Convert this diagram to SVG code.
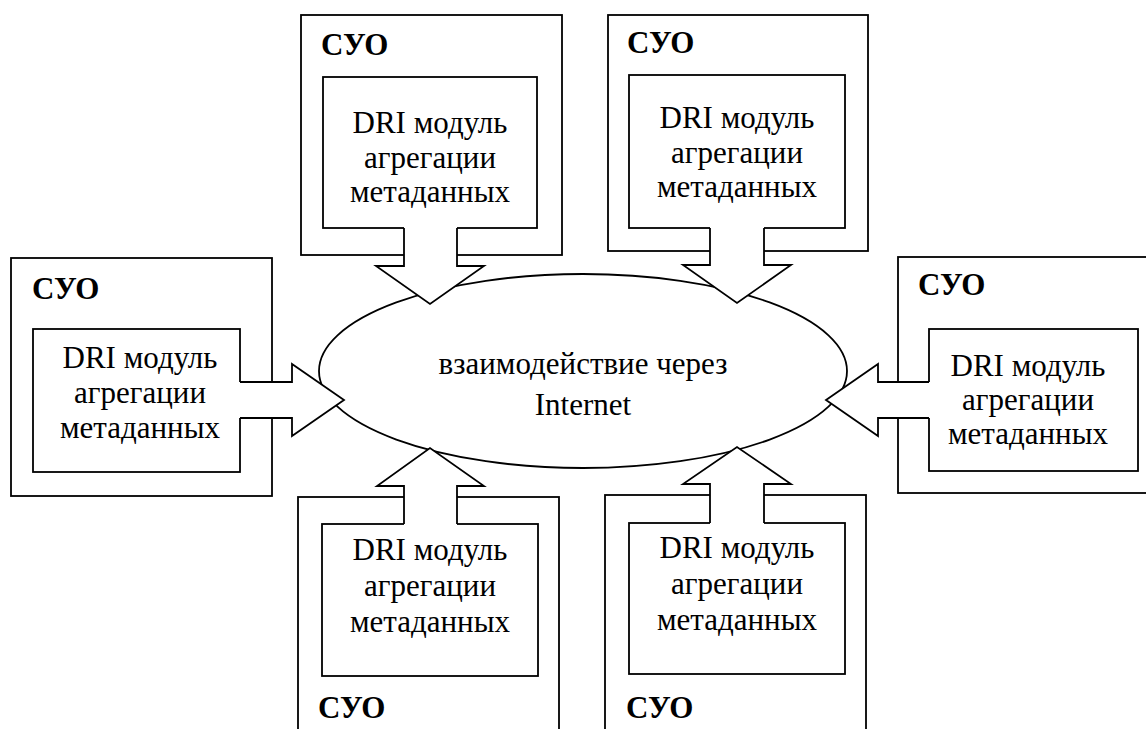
<svg xmlns="http://www.w3.org/2000/svg" width="1146" height="729" viewBox="0 0 1146 729">
<style>
text{font-family:"Liberation Serif","Times New Roman",serif !important;font-size:31px;fill:#000}
.t{text-anchor:middle}
.h{font-weight:bold}
.box{fill:#fff;stroke:#000;stroke-width:1.8}
.af{fill:#fff;stroke:none}
.al{fill:none;stroke:#000;stroke-width:1.8}
</style>
<rect width="1146" height="729" fill="#fff"/>
<g id="internet">
<ellipse class="box" cx="583" cy="371" rx="264" ry="97"/>
<text class="t" x="583" y="374" font-family="Liberation Serif">взаимодействие через</text>
<text class="t" x="583" y="415" font-family="Liberation Serif">Internet</text>
</g>
<g id="node-top-left">
<rect class="box" x="301" y="15" width="261" height="240"/>
<rect class="box" x="323" y="77" width="214" height="151"/>
<text class="h" x="321" y="55" font-family="Liberation Serif">СУО</text>
<text class="t" x="430" y="133" font-family="Liberation Serif">DRI модуль</text>
<text class="t" x="430" y="168" font-family="Liberation Serif">агрегации</text>
<text class="t" x="430" y="202" font-family="Liberation Serif">метаданных</text>
</g>
<g id="node-top-right">
<rect class="box" x="608" y="15" width="260" height="236"/>
<rect class="box" x="629" y="75" width="216" height="153"/>
<text class="h" x="627" y="53" font-family="Liberation Serif">СУО</text>
<text class="t" x="737" y="128" font-family="Liberation Serif">DRI модуль</text>
<text class="t" x="737" y="163" font-family="Liberation Serif">агрегации</text>
<text class="t" x="737" y="197" font-family="Liberation Serif">метаданных</text>
</g>
<g id="node-left">
<rect class="box" x="11" y="258" width="261" height="238"/>
<rect class="box" x="33" y="329" width="207" height="143"/>
<text class="h" x="32" y="299" font-family="Liberation Serif">СУО</text>
<text class="t" x="140" y="368" font-family="Liberation Serif">DRI модуль</text>
<text class="t" x="140" y="403" font-family="Liberation Serif">агрегации</text>
<text class="t" x="140" y="438" font-family="Liberation Serif">метаданных</text>
</g>
<g id="node-right">
<rect class="box" x="898" y="257" width="260" height="236"/>
<rect class="box" x="929" y="329" width="209" height="142"/>
<text class="h" x="918" y="295" font-family="Liberation Serif">СУО</text>
<text class="t" x="1028" y="376" font-family="Liberation Serif">DRI модуль</text>
<text class="t" x="1028" y="410" font-family="Liberation Serif">агрегации</text>
<text class="t" x="1028" y="444" font-family="Liberation Serif">метаданных</text>
</g>
<g id="node-bottom-left">
<rect class="box" x="298" y="497" width="261" height="250"/>
<rect class="box" x="322" y="524" width="216" height="152"/>
<text class="t" x="430" y="560" font-family="Liberation Serif">DRI модуль</text>
<text class="t" x="430" y="596" font-family="Liberation Serif">агрегации</text>
<text class="t" x="430" y="632" font-family="Liberation Serif">метаданных</text>
<text class="h" x="318" y="718" font-family="Liberation Serif">СУО</text>
</g>
<g id="node-bottom-right">
<rect class="box" x="605" y="495" width="261" height="252"/>
<rect class="box" x="629" y="523" width="216" height="151"/>
<text class="t" x="737" y="558" font-family="Liberation Serif">DRI модуль</text>
<text class="t" x="737" y="594" font-family="Liberation Serif">агрегации</text>
<text class="t" x="737" y="630" font-family="Liberation Serif">метаданных</text>
<text class="h" x="626" y="718" font-family="Liberation Serif">СУО</text>
</g>
<g id="connectors">
<polygon class="af" points="404,226 457,226 457,266 484,266 430,304 376,266 404,266"/>
<polygon class="af" points="710,226 764,226 764,265 791,265 737,303 683,265 710,265"/>
<polygon class="af" points="238,382 292,382 292,364 344,400 292,436 292,418 238,418"/>
<polygon class="af" points="931,382 878,382 878,364 826,400 878,436 878,418 931,418"/>
<polygon class="af" points="404,526 457,526 457,486 484,486 430,448 377,486 404,486"/>
<polygon class="af" points="710,525 764,525 764,484 791,484 737,447 683,484 710,484"/>
<path class="al" d="M404,228 V266 H376 L430,304 L484,266 H457 V228"/>
<path class="al" d="M710,228 V265 H683 L737,303 L791,265 H764 V228"/>
<path class="al" d="M240,382 H292 V364 L344,400 L292,436 V418 H240"/>
<path class="al" d="M929,382 H878 V364 L826,400 L878,436 V418 H929"/>
<path class="al" d="M404,524 V486 H377 L430,448 L484,486 H457 V524"/>
<path class="al" d="M710,523 V484 H683 L737,447 L791,484 H764 V523"/>
</g>
</svg>
